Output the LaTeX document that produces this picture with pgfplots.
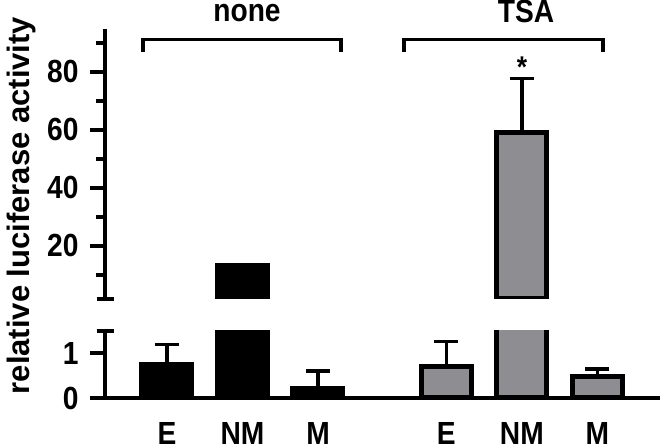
\documentclass[border=0pt]{standalone}
\usepackage{fontspec}
\setmainfont{Liberation Sans}[FakeStretch=0.88]
\newfontfamily\ylabfont{Liberation Sans}
\usepackage{pgfplots}
\usepackage{pgfplotstable}
\pgfplotsset{compat=1.18}
\definecolor{barGray}{RGB}{141,141,146}

\pgfplotstableread{
x v e
0 0.76 0.44
1 13.3 0.2
2 0.22 0.39
}\nonedata
\pgfplotstableread{
x v e
3.7 0.71 0.56
4.7 59.1 18.6
5.7 0.48 0.17
}\tsadata

\pgfplotsset{
 brk/.style={
  scale only axis, width=555bp, xmin=-0.821, xmax=6.53,
  axis y line*=left,
  axis line style={line width=4.5bp, line cap=butt},
  tick align=outside,
  major tick length=15bp, minor tick length=9bp,
  tick style={black, line width=4bp},
  yticklabel style={font=\fontsize{32bp}{32bp}\selectfont\bfseries, xshift=-8bp},
  /pgf/number format/assume math mode=true,
  ybar, bar width=50bp, bar shift=0pt,
  error bars/y dir=plus, error bars/y explicit,
  error bars/error bar style={line width=3.5bp, black},
  error bars/error mark options={rotate=90, mark size=12bp, line width=3.5bp, black},
 },
}

\begin{document}
\begin{tikzpicture}
\useasboundingbox (0,0) rectangle (660bp,447bp);
% upper segment
\begin{axis}[brk, at={(105bp,148bp)}, anchor=south west, height=270bp,
  ymin=1.7, ymax=94.8, axis x line=none,
  restrict y to domain=1.7:100,
  ytick={20,40,60,80}, minor ytick={10,30,50,70,90},
  extra y ticks={1.7}, extra y tick labels={},
  extra y tick style={tick align=center, major tick length=17bp}]
\addplot[fill=black, draw=black, line width=5bp] table[x=x, y=v, y error=e] {\nonedata};
\addplot[fill=barGray, draw=black, line width=5bp] table[x=x, y=v, y error=e] {\tsadata};
\end{axis}
% lower segment
\begin{axis}[brk, at={(105bp,49bp)}, anchor=south west, height=67bp,
  ymin=0, ymax=1.5, axis x line*=bottom,
  ytick={0,1},
  extra y ticks={1.5}, extra y tick labels={},
  extra y tick style={tick align=center, major tick length=17bp},
  xtick={0,1,2,3.7,4.7,5.7}, xticklabels={E,NM,M,E,NM,M},
  xtick style={draw=none},
  xticklabel style={font=\fontsize{32bp}{32bp}\selectfont\bfseries, anchor=base, inner sep=0pt, yshift=-31bp}]
\addplot[fill=black, draw=black, line width=5bp] table[x=x, y=v, y error=e] {\nonedata};
\addplot[fill=barGray, draw=black, line width=5bp] table[x=x, y=v, y error=e] {\tsadata};
\end{axis}
% group brackets and labels
\draw[line width=3.5bp] (143bp,395bp) -- (143bp,407.5bp) -- (341bp,407.5bp) -- (341bp,395bp);
\draw[line width=3.5bp] (404bp,395bp) -- (404bp,407.5bp) -- (603bp,407.5bp) -- (603bp,395bp);
\node[anchor=base, inner sep=0pt, font=\fontsize{32bp}{32bp}\selectfont\bfseries] at (247bp,425bp) {none};
\node[anchor=base, inner sep=0pt, font=\fontsize{32bp}{32bp}\selectfont\bfseries] at (526bp,424bp) {TSA};
\node[anchor=base, inner sep=0pt, font=\fontsize{30bp}{30bp}\selectfont\bfseries] at (522bp,369.5bp) {*};
\node[anchor=base, rotate=90, inner sep=0pt, font=\ylabfont\fontsize{31bp}{31bp}\selectfont\bfseries] at (29bp,241.5bp) {relative luciferase activity};
\end{tikzpicture}
\end{document}
